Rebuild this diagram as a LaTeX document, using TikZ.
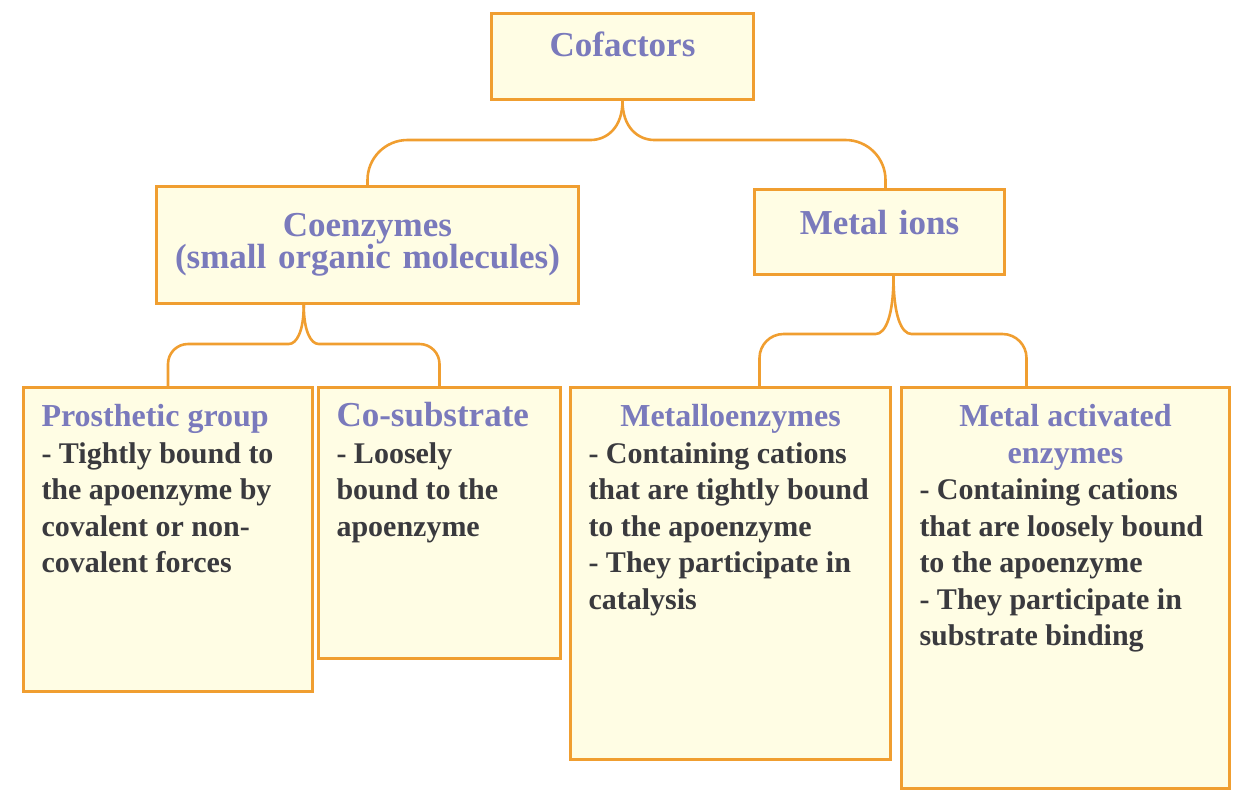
\documentclass[tikz,border=0pt]{standalone}
\usepackage{fontspec}
\setmainfont{Liberation Serif}
\usepackage{tikz}
\usetikzlibrary{calc}

\definecolor{boxedge}{RGB}{240,158,48}
\definecolor{boxfill}{RGB}{255,253,228}
\definecolor{headblue}{RGB}{122,122,188}
\definecolor{bodygray}{RGB}{58,58,62}

\newcommand{\hd}[2][16]{{\color{headblue}\fontsize{#1}{18}\selectfont #2}}

\begin{document}
\begin{tikzpicture}[
  x=0.5pt,y=-0.5pt,
  tile/.style={draw=boxedge,fill=boxfill,line width=1.5pt,anchor=north west,inner ysep=0pt},
  head/.style={tile,align=center,inner xsep=6pt,text=headblue,font=\bfseries\fontsize{17.5}{16}\selectfont},
  leaf/.style={tile,align=flush left,inner xsep=9pt,text=bodygray,font=\bfseries\fontsize{15}{18.25}\selectfont,text height=19.5pt},
  brace/.style={draw=boxedge,line width=1.3pt}
]
\useasboundingbox (0,0) rectangle (1238,789);

% top level
\node[head,text width=119pt,text height=21.5pt,text depth=21.5pt] (cof) at (490,12) {Cofactors};
\node[head,text width=199pt,text height=25pt,text depth=33.5pt] (coe) at (155,185) {Coenzymes\\(small organic molecules)};
\node[head,text width=113pt,text height=22.5pt,text depth=20pt] (mion) at (753,188) {Metal ions};

% leaves
\node[leaf,text width=126.5pt,text depth=132.5pt] (pros) at (22,386)
  {\hd{Prosthetic group}\\- Tightly bound to\\the apoenzyme by\\covalent or non-\\covalent forces};
\node[leaf,text width=103pt,text depth=116pt] (cosub) at (317,386)
  {\hd[17.5]{Co-substrate}\\- Loosely\\bound to the\\apoenzyme};
\node[leaf,text width=142pt,text depth=166.5pt] (metallo) at (569,386)
  {\makebox[\linewidth]{\hd{Metalloenzymes}}\\- Containing cations\\that are tightly bound\\to the apoenzyme\\- They participate in\\catalysis};
\node[leaf,text width=146pt,text depth=181pt] (metact) at (900,386)
  {\makebox[\linewidth]{\hd{Metal activated}}\\\makebox[\linewidth]{\hd{enzymes}}\\- Containing cations\\that are loosely bound\\to the apoenzyme\\- They participate in\\substrate binding};

% braces
\draw[brace] (cof.south) .. controls +(0,27) and +(16,0) .. ++(-32,39) [rounded corners=20pt] -| (coe.north);
\draw[brace] (cof.south) .. controls +(0,27) and +(-16,0) .. ++(32,39) [rounded corners=20pt] -| ([xshift=3pt]mion.north);

\path ($(pros.north)!0.5!(cosub.north)$) coordinate (mid2);
\draw[brace] (mid2 |- coe.south) .. controls +(0,26) and +(8,0) .. ++(-15,39) [rounded corners=10pt] -| (pros.north);
\draw[brace] (mid2 |- coe.south) .. controls +(0,26) and +(-8,0) .. ++(15,39) [rounded corners=10pt] -| (cosub.north);

\draw[brace] ([xshift=7pt]mion.south) .. controls +(0,40) and +(10,0) .. ++(-18,58) [rounded corners=12pt] -| ([xshift=14.5pt]metallo.north);
\draw[brace] ([xshift=7pt]mion.south) .. controls +(0,40) and +(-10,0) .. ++(18,58) [rounded corners=12pt] -| ([xshift=-19.5pt]metact.north);
\end{tikzpicture}
\end{document}
